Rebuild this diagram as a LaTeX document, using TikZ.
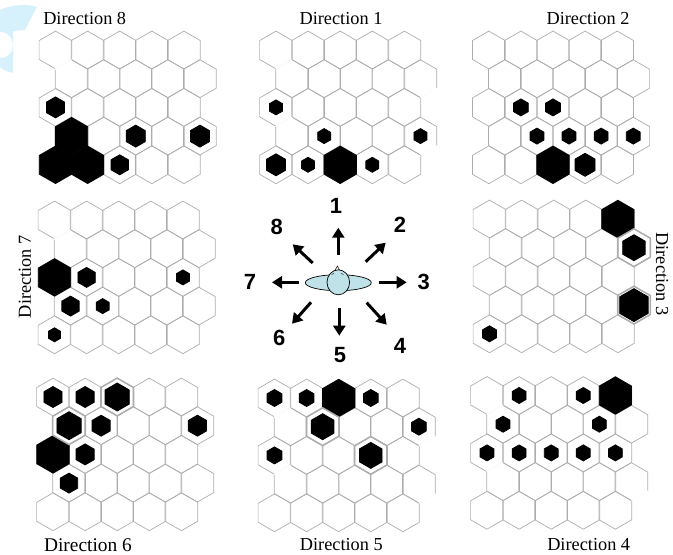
\documentclass[tikz,border=0pt]{standalone}
\usepackage{fontspec}
\setmainfont{Liberation Serif}
\setsansfont{Liberation Sans}
\usepackage{xcolor}
\usetikzlibrary{positioning,shapes.geometric,arrows.meta}
\definecolor{cellline}{gray}{0.68}
\definecolor{bodyblue}{RGB}{190,226,232}
\definecolor{markblue}{RGB}{214,241,252}
\tikzset{
    hexcell/.style={
        regular polygon,
        regular polygon sides=6,
        shape border rotate=30,
        draw=cellline,
        line width=0.7pt,
        inner sep=0pt,
        outer sep=0pt,
        minimum size=37.8pt
    },
    hexdot/.style={
        regular polygon,
        regular polygon sides=6,
        shape border rotate=30,
        draw=black,
        fill=black,
        line width=0.8pt,
        inner sep=0pt,
        outer sep=0pt,
        minimum size=#1
    },
    hexring/.style={hexcell,line width=1.5pt},
    fadedside/.style={white,line width=1.5pt},
    dirlabel/.style={inner sep=0pt,font=\fontsize{18.3}{20}\selectfont},
    dirnum/.style={font=\fontsize{22}{24}\selectfont\sffamily\bfseries},
    dirarrow/.style={line width=3pt,-{Triangle[length=10pt,width=12pt]}}
}
% griglia: origine x, origine y, nome, esagoni pieni riga/colonna/diametro
\newcommand{\hexpanel}[4]{
    \foreach \row in {0, 1, ..., 4}
        \foreach \col in {0, 1, ..., 4}
        {
            \pgfmathsetmacro{\px}{#1 + \col*32.1 + mod(\row,2)*16.05}
            \pgfmathsetmacro{\py}{#2 + \row*28.7}
            \node[hexcell] (#3-\row-\col) at (\px, \py) {};
        }
    \foreach \row/\col/\size in {#4}
        \node[hexdot=\size pt] (#3-dot-\row-\col) at (#3-\row-\col) {};
}
\begin{document}
\begin{tikzpicture}[x=1pt,y=-1pt]
    \useasboundingbox (0,0) rectangle (673,555);

    % Macchia in alto a sinistra
    \fill[markblue] (0,10) .. controls (10,5) and (28,3) .. (37,7)
        .. controls (33,14) and (28,24) .. (25,30) -- (13,31) -- (13,73)
        .. controls (8,72) and (3,70) .. (0,67) -- (0,58)
        .. controls (9,58) and (13,52) .. (13,45)
        .. controls (13,38) and (8,32) .. (0,32) -- cycle;

    % Griglie
    \hexpanel{55.5}{50}{eight}{2/0/21, 3/0/37.3, 4/0/37.3, 4/1/37.3, 3/2/22, 3/4/22, 4/2/20}
    \hexpanel{276}{50}{one}{2/0/15, 3/1/15, 3/4/15, 4/0/22, 4/1/15, 4/2/37.3, 4/3/15}
    \hexpanel{488.8}{50}{two}{2/1/17, 2/2/17, 3/1/16, 3/2/16, 3/3/16, 3/4/16, 4/2/37.3, 4/3/23}
    \hexpanel{54.5}{220}{seven}{2/0/37.3, 2/1/20, 2/4/15, 3/0/20, 3/1/15, 4/0/14}
    \hexpanel{489.5}{219}{three}{0/4/37.3, 1/4/26, 3/4/33, 4/0/16}
    \hexpanel{53}{397}{six}{0/0/21, 0/1/21, 0/2/28, 1/0/28, 1/1/21, 1/4/21, 2/0/37.3, 2/1/21, 3/0/20}
    \hexpanel{274.5}{398}{five}{0/0/17, 0/1/17, 0/2/37.3, 0/3/17, 1/1/26, 1/4/17, 2/0/17, 2/3/26}
    \hexpanel{487}{395.5}{four}{0/1/16, 0/3/16, 0/4/37.3, 1/0/16, 1/3/16, 2/0/16, 2/1/16, 2/2/16, 2/3/16, 2/4/16}

    % Bordi spessi attorno ad alcuni esagoni
    \foreach \p/\r/\c in {three/1/4, three/3/4, six/0/2, six/1/0, five/1/1, five/2/3}
        \node[hexring] (ring-\p-\r-\c) at (\p-\r-\c) {};

    % Lati sbiaditi delle righe sfalsate
    \foreach \p/\r in {one/1, one/3, five/1, five/3, four/1, four/3, eight/1, seven/1}
        \draw[fadedside] (\p-\r-0.corner 1) -- (\p-\r-0.corner 2);
    \foreach \p/\r in {one/1, one/3, five/1, five/3, four/3}
        \draw[fadedside] (\p-\r-4.corner 4) -- (\p-\r-4.corner 5);

    % Etichette
    \node[dirlabel] (lab8) at (84.7,19) {Direction 8};
    \node[dirlabel] (lab1) at (341,19) {Direction 1};
    \node[dirlabel] (lab2) at (588,19) {Direction 2};
    \node[dirlabel,rotate=90] (lab7) at (25,276.7) {Direction 7};
    \node[dirlabel,rotate=-90] (lab3) at (662,274) {Direction 3};
    \node[dirlabel,font=\fontsize{19.4}{20}\selectfont] (lab6) at (88,545.5) {Direction 6};
    \node[dirlabel] (lab5) at (341.3,545) {Direction 5};
    \node[dirlabel] (lab4) at (588.7,545) {Direction 4};

    % Uccello al centro
    \draw[fill=bodyblue,line width=0.7pt] (338.3,282.7) ellipse (33 and 8);
    \draw[fill=white,line width=0.5pt] (335,270.5) -- (337.3,266) -- (339.8,270.5);
    \draw[fill=bodyblue,line width=0.7pt] (338.3,282.3) ellipse (11.3 and 12.5);
    \draw[line width=0.4pt] (331.5,274.5) -- (334,273.5);
    \draw[line width=0.4pt] (341,273.5) -- (343.5,274.5);

    % Frecce
    \foreach \n/\xa/\ya/\xb/\yb in {
        n/338.3/255/338.3/227.7, ne/365.7/261.7/385.7/242.7,
        e/379/282.3/406.7/282.3, se/366.7/302.7/386.7/324.7,
        s/339.3/307.7/339.3/335.7, sw/311/302.3/292/323.7,
        w/299.3/282.3/272/282.3, nw/312.7/263/292.7/244.3}
    {
        \coordinate (from\n) at (\xa,\ya);
        \coordinate (to\n) at (\xb,\yb);
        \draw[dirarrow] (from\n) -- (to\n);
    }
    \foreach \n/\x/\y in {1/336/205.7, 2/400/225, 3/423.7/281.7, 4/400/345.7,
        5/340/355, 6/279.3/337.7, 7/250/281.7, 8/276.7/226.7}
        \node[dirnum] (num\n) at (\x,\y) {\n};
\end{tikzpicture}
\end{document}
